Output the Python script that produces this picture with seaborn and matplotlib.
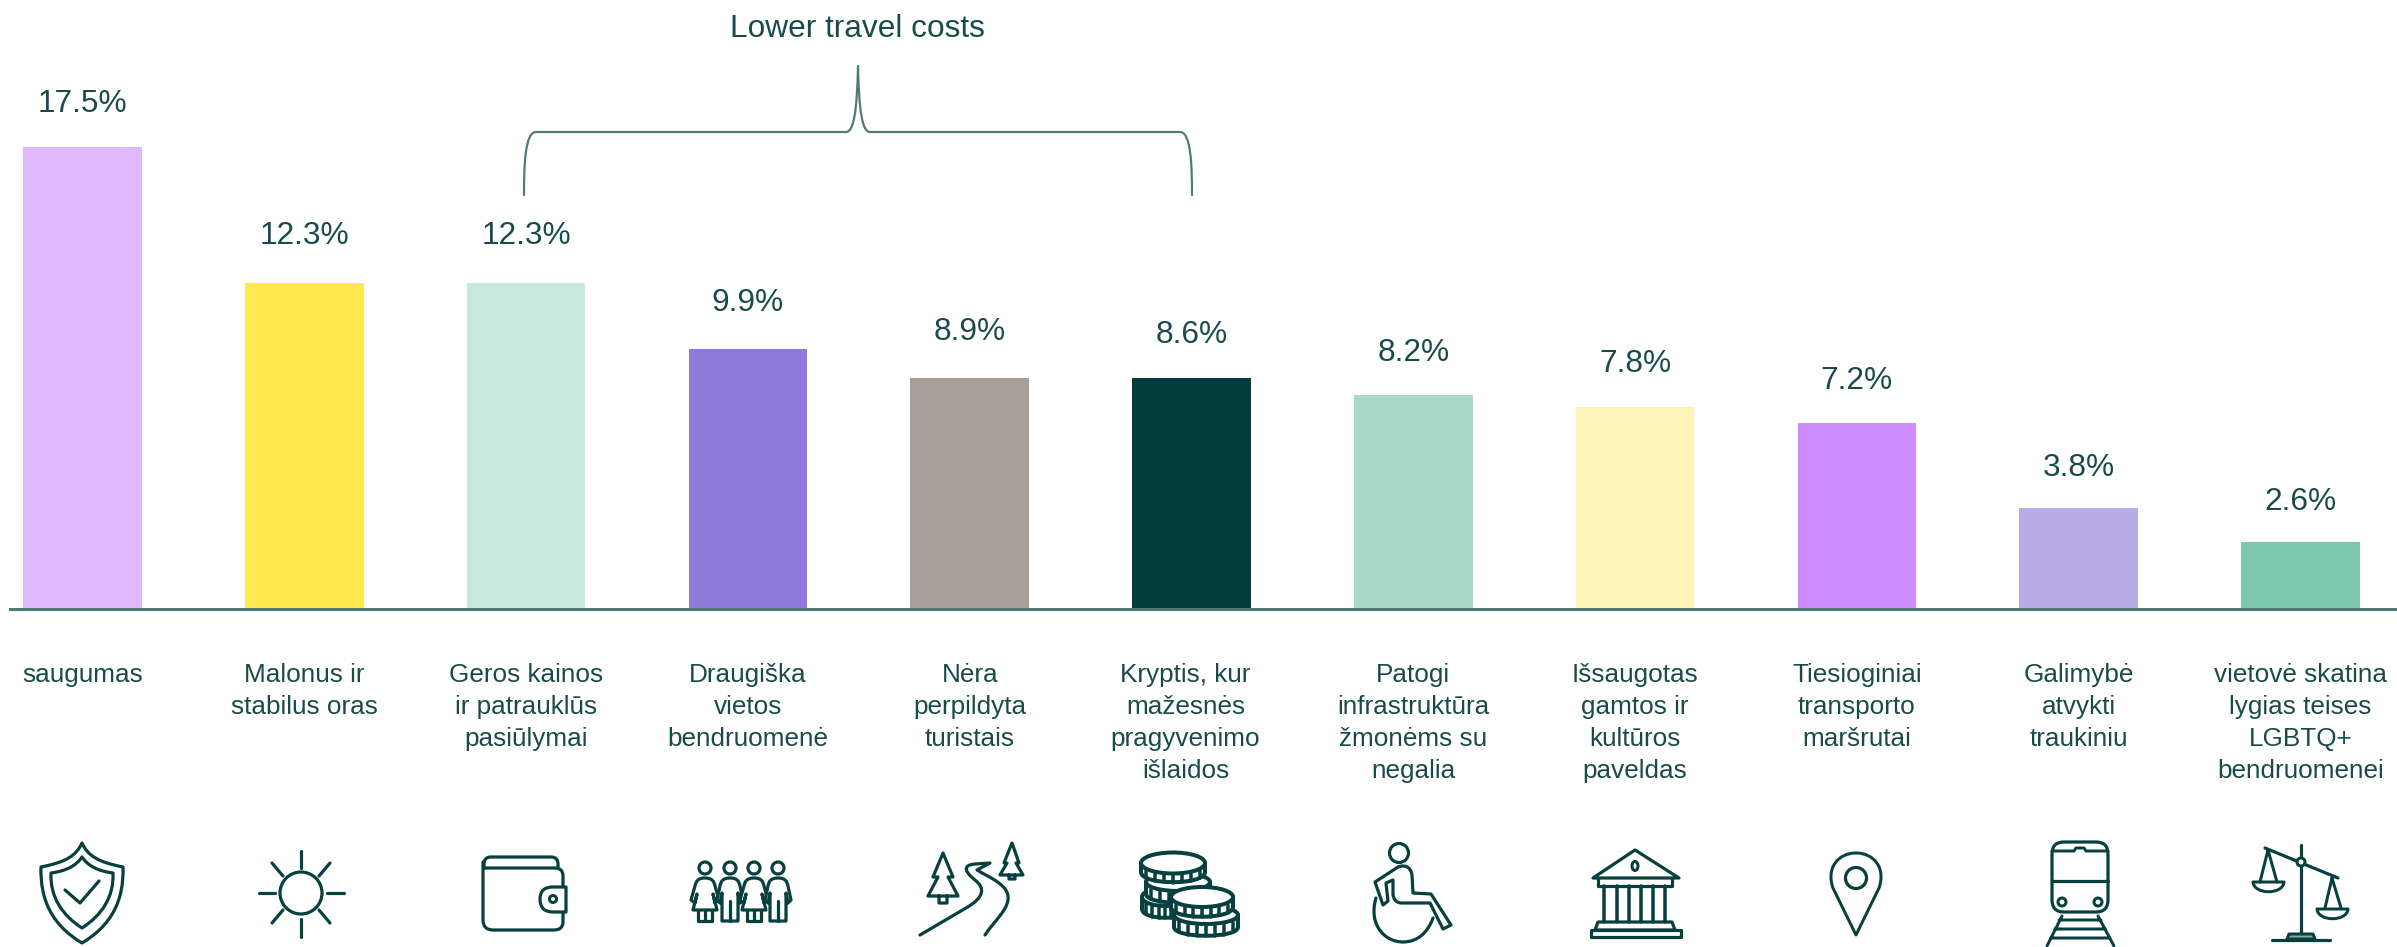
import re
import matplotlib
matplotlib.use("Agg")
import matplotlib.pyplot as plt
import seaborn as sns
from matplotlib.path import Path
from matplotlib.patches import PathPatch, Circle, Ellipse
from matplotlib.transforms import ScaledTranslation

# ---------- data ----------
categories = ["saugumas", "Malonus ir\nstabilus oras", "Geros kainos\nir patrauklūs\npasiūlymai",
              "Draugiška\nvietos\nbendruomenė", "Nėra\nperpildyta\nturistais",
              "Kryptis, kur\nmažesnės\npragyvenimo\nišlaidos",
              "Patogi\ninfrastruktūra\nžmonėms su\nnegalia",
              "Išsaugotas\ngamtos ir\nkultūros\npaveldas",
              "Tiesioginiai\ntransporto\nmaršrutai", "Galimybė\natvykti\ntraukiniu",
              "vietovė skatina\nlygias teises\nLGBTQ+\nbendruomenei"]
value_labels = [17.5, 12.3, 12.3, 9.9, 8.9, 8.6, 8.2, 7.8, 7.2, 3.8, 2.6]
bar_heights = [17.5, 12.33, 12.33, 9.85, 8.75, 8.75, 8.12, 7.65, 7.04, 3.82, 2.55]
bar_colors = ["#E0B8FF", "#FFE94F", "#C7E8DC", "#8E7AD8", "#A59F98", "#023D3C",
              "#A9D9C8", "#FDF5B8", "#CC8CFF", "#B8ACE6", "#7BC6AC"]
label_gaps_px = [35, 39, 39, 38, 38, 35, 34, 35, 34, 32, 32]
annotation = "Lower travel costs"

# ---------- layout ----------
W, H = 2397, 947
INK = "#07403F"
TEXT = "#1A4B4C"
LINE = "#4F7A78"
PX = 0.72  # points per pixel at dpi 100
X0, DX = 82.5, 221.8
BASE, PER = 609.0, 26.4

sns.set_theme(style="white")
plt.rcParams["font.family"] = ["Liberation Sans", "DejaVu Sans"]

fig = plt.figure(figsize=(W / 100, H / 100), dpi=100, facecolor="white")
ax = fig.add_axes([0, 0, 1, 1])
sns.barplot(x=categories, y=bar_heights, hue=categories, palette=bar_colors, dodge=False,
            legend=False, width=0.535, saturation=1, linewidth=0, ax=ax)
ax.set_xlim(-X0 / DX, (W - X0) / DX)
ax.set_ylim(-(H - BASE) / PER, BASE / PER)
ax.set_facecolor("none")
for s in ("top", "left", "right"):
    ax.spines[s].set_visible(False)
ax.spines["bottom"].set_position(("data", 0))
ax.spines["bottom"].set_color(LINE)
ax.spines["bottom"].set_linewidth(3 * PX)
ax.spines["bottom"].set_bounds(-72 / DX, (W - X0) / DX)
ax.set_yticks([])
ax.set_ylabel("")
ax.set_xlabel("")
ax.tick_params(axis="x", length=0, pad=39, labelsize=18.8, labelcolor=TEXT)
for t in ax.get_xticklabels():
    t.set_linespacing(1.42)
    t.set_ha("center")
# the "Kryptis" label sits slightly left of its bar in the reference
kr = ax.get_xticklabels()[5]
kr.set_transform(kr.get_transform() + ScaledTranslation(-6 * PX / 72, 0, fig.dpi_scale_trans))

for i, (v, h, g) in enumerate(zip(value_labels, bar_heights, label_gaps_px)):
    ax.annotate(f"{v}%", (i, h), xytext=(0, g * PX), textcoords="offset points",
                ha="center", va="baseline", fontsize=22.8, color=TEXT)

# ---------- overlay in pixel space for bracket, title and icons ----------
ov = fig.add_axes([0, 0, 1, 1], facecolor="none")
ov.set_xlim(0, W)
ov.set_ylim(H, 0)
ov.axis("off")

ov.text(857, 37, annotation, ha="center", va="baseline", fontsize=22.8, color=TEXT)


def svg(d):
    tok = re.findall(r"[MLQCZ]|-?\d+\.?\d*", d)
    verts, codes = [], []
    i = 0
    n = {"M": (1, Path.MOVETO), "L": (1, Path.LINETO), "Q": (2, Path.CURVE3), "C": (3, Path.CURVE4)}
    cmd = None
    while i < len(tok):
        if tok[i] in n or tok[i] == "Z":
            cmd = tok[i]
            i += 1
            if cmd == "Z":
                verts.append((0, 0))
                codes.append(Path.CLOSEPOLY)
                continue
        k, code = n[cmd]
        for _ in range(k):
            verts.append((float(tok[i]), float(tok[i + 1])))
            codes.append(code)
            i += 2
    return Path(verts, codes)


def draw(d, lw=3.2, fill="none", color=INK):
    ov.add_patch(PathPatch(svg(d), facecolor=fill, edgecolor=color, linewidth=lw * PX,
                           capstyle="round", joinstyle="round"))


def circ(x, y, r, lw=3.2, fill="white"):
    ov.add_patch(Circle((x, y), r, facecolor=fill, edgecolor=INK, linewidth=lw * PX))


# bracket
draw("M524 195 C524 165 525 132 536 132 L846 132 C854 132 857 110 858 66 "
     "C859 110 862 132 870 132 L1180 132 C1191 132 1192 165 1192 195", lw=2.2, color=LINE)

# shield
draw("M82 843 C76 856 66 862 41 867 C40 900 52 925 82 943 C112 925 124 900 123 867 C98 862 88 856 82 843 Z")
draw("M82 857 C76 866 66 871 51 873 C50 897 62 915 82 928 C102 915 114 897 113 873 C98 871 88 866 82 857 Z")
draw("M65 890 L80 903 L99 881")

# sun
circ(301, 893, 21, fill="none")
for a, b in [((301, 851), (301, 868)), ((301, 919), (301, 937)), ((259, 893), (275, 893)),
             ((327, 893), (344, 893)), ((272, 863), (283, 876)), ((330, 863), (319, 876)),
             ((272, 923), (283, 910)), ((330, 923), (319, 910))]:
    draw(f"M {a[0]} {a[1]} L {b[0]} {b[1]}")

# wallet
draw("M484 868 L484 864 Q484 857 491 857 L551 857 Q558 857 558 864 L558 868")
draw("M483 862 L483 920 Q483 930 493 930 L554 930 Q563 930 563 922 L563 876 Q563 868 555 868 L484 868")
draw("M566 887 L553 887 Q540 887 540 899 Q540 912 553 912 L566 912 Z", fill="white")
circ(553, 899, 3.5, lw=3)


# people
def person(cx, female):
    circ(cx, 868, 6, lw=3.2)
    f = lambda x: cx + x
    if female:
        draw(f"M {f(0)} 878 C {f(-7)} 878 {f(-9)} 881 {f(-10)} 886 L {f(-14)} 900 L {f(-10)} 903 "
             f"L {f(-8)} 894 L {f(-12)} 910 L {f(12)} 910 L {f(8)} 894 L {f(10)} 903 L {f(14)} 900 "
             f"L {f(10)} 886 C {f(9)} 881 {f(7)} 878 {f(0)} 878 Z", lw=3.2, fill="white")
        draw(f"M {f(-7)} 910 L {f(-7)} 921 L {f(7)} 921 L {f(7)} 910 M {f(0)} 910 L {f(0)} 921", lw=3.2)
    else:
        draw(f"M {f(0)} 878 C {f(-7)} 878 {f(-9)} 881 {f(-10)} 886 L {f(-13)} 900 L {f(-10)} 903 "
             f"L {f(-8)} 893 L {f(-8)} 921 L {f(8)} 921 L {f(8)} 893 L {f(10)} 903 L {f(13)} 900 "
             f"L {f(10)} 886 C {f(9)} 881 {f(7)} 878 {f(0)} 878 Z", lw=3.2, fill="white")
        draw(f"M {f(0)} 901 L {f(0)} 921", lw=3.2)


person(705, True)
person(730, False)
person(754, True)
person(778, False)

# road and trees
draw("M920 935 L966 908 C985 897 985 888 975 880 C965 872 962 865 975 864 L990 863 L977 870 "
     "C990 878 1010 885 1008 900 C1006 912 995 920 985 935")
draw("M943 853 L933 877 L938 877 L928 896 L958 896 L948 877 L953 877 Z M939 896 L939 903 L947 903 L947 896")
draw("M1012 843 L1004 863 L1007 863 L1000 875 L1023 875 L1016 863 L1019 863 Z "
     "M1009 875 L1009 879 L1015 879 L1015 875")


# coins
def coin(cx, cy, rx, ry, h):
    ov.add_patch(PathPatch(svg(f"M {cx-rx} {cy} L {cx-rx} {cy+h} C {cx-rx} {cy+h+ry*1.3:.1f} {cx+rx} {cy+h+ry*1.3:.1f} "
                               f"{cx+rx} {cy+h} L {cx+rx} {cy} Z"),
                           facecolor="white", edgecolor=INK, linewidth=4 * PX, joinstyle="round"))
    for k in range(-3, 4):
        x = cx + k * rx / 3.6
        y = cy + ry * (1 - (k / 3.6) ** 2) ** 0.5
        draw(f"M {x:.1f} {y+2:.1f} L {x:.1f} {y+h:.1f}", lw=3.5)
    ov.add_patch(Ellipse((cx, cy), 2 * rx, 2 * ry, facecolor="white", edgecolor=INK, linewidth=4 * PX))


coin(1165, 897, 23, 9, 12)
coin(1178, 882, 32, 9, 12)
coin(1173, 863, 32, 10.5, 9)
coin(1206, 915, 32, 9, 12)
coin(1202, 897, 31, 10, 10)

# wheelchair
draw("M1376 898 C1368 925 1385 942 1403 942 C1418 942 1428 932 1433 918")
circ(1399, 853, 9.5)
draw("M1375 882 L1398 867 C1406 864 1411 868 1412 875 L1413 893 L1431 894 L1451 925 L1443 929 "
     "L1430 903 L1402 903 C1396 903 1393 899 1393 893 L1393 880 L1386 883 L1388 901 L1383 905 Z", fill="white")

# temple
draw("M1635 850 L1593 878 L1679 878 Z")
ov.add_patch(Ellipse((1635, 866), 6, 9, facecolor="none", edgecolor=INK, linewidth=3 * PX))
draw("M1598 879 L1598 886 L1672 886 L1672 879")
for x in (1604, 1617, 1629, 1641, 1653, 1665):
    draw(f"M {x} 886 L {x} 922", lw=3.5)
draw("M1598 922 L1672 922 L1675 930 L1595 930 Z")
draw("M1591 930 L1681 930 L1681 937 L1591 937 Z")

# pin
draw("M1856 935 L1833 888 C1826 868 1838 853 1856 853 C1874 853 1886 868 1879 888 Z", lw=3)
circ(1856, 878, 10.5, fill="none")

# train
draw("M2052 854 Q2052 842 2064 842 L2096 842 Q2108 842 2108 854 L2108 900 Q2108 912 2096 912 "
     "L2064 912 Q2052 912 2052 900 Z")
draw("M2052 851 L2074 851 L2076 848 L2084 848 L2086 851 L2108 851", lw=3)
draw("M2052 881 L2108 881")
circ(2062, 902, 4, lw=3)
circ(2098, 902, 4, lw=3)
draw("M2062 916 L2047 946 M2098 916 L2114 946 M2059 920 L2101 920 M2055 929 L2105 929 M2051 938 L2109 938", lw=3)

# scales
draw("M2301 845 L2301 936")
draw("M2265 848 L2338 878")
circ(2301, 862, 4, lw=3)
draw("M2272 940 L2330 940")
draw("M2287 939 L2289 934 L2313 934 L2315 939 Z", lw=3, fill="#8FA3A2")
draw("M2268 850 L2260 882 M2268 850 L2277 882", lw=3)
draw("M2253 882 L2284 882 C2283 895 2254 895 2253 882 Z", lw=3)
draw("M2332 878 L2325 908 M2332 878 L2341 908", lw=3)
draw("M2317 909 L2348 909 C2347 922 2318 922 2317 909 Z", lw=3)

fig.savefig("out.png", dpi=100, facecolor="white")
